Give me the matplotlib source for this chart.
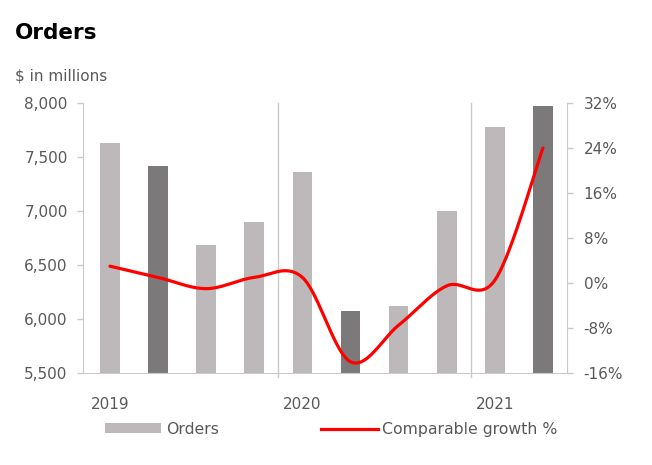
import numpy as np
import matplotlib
matplotlib.use("Agg")
import matplotlib.pyplot as plt
from matplotlib.patches import Patch
from matplotlib.lines import Line2D

quarters = ["Q1 2019", "Q2 2019", "Q3 2019", "Q4 2019",
            "Q1 2020", "Q2 2020", "Q3 2020", "Q4 2020",
            "Q1 2021", "Q2 2021"]
orders = [7628, 7413, 6690, 6900, 7362, 6073, 6119, 6997, 7775, 7969]
growth = [3.0, 1.0, -1.0, 1.0, 1.0, -14.0, -7.5, -0.5, 0.5, 24.0]
year_labels = ["2019", "2020", "2021"]
year_positions = [0, 4, 8]
highlight = [False, True, False, False, False, True, False, False, False, True]

LIGHT = "#bdb9ba"
DARK = "#7b7979"
GRID = "#c8cbc8"
TXT = "#595959"

plt.rcParams['font.family'] = ['DejaVu Sans']

fig = plt.figure(figsize=(6.52, 4.65), dpi=100)
ax = fig.add_axes([0.1273, 0.1978, 0.7423, 0.5806])

x = np.arange(len(orders))
colors = [DARK if h else LIGHT for h in highlight]
ax.bar(x, orders, width=0.41, color=colors, zorder=2)
ax.set_ylim(5500, 8000)
ax.set_xlim(-0.56, 9.5)
ax.set_yticks([5500, 6000, 6500, 7000, 7500, 8000])
ax.set_yticklabels([f"{v:,}" for v in [5500, 6000, 6500, 7000, 7500, 8000]])

for sep in [3.5, 7.5]:
    ax.axvline(sep, ymin=-0.015, ymax=1.0, color=GRID, lw=1, clip_on=False, zorder=1)

ax.set_xticks(year_positions)
ax.set_xticklabels(year_labels)
ax.tick_params(axis='x', length=0, pad=17, labelsize=11, labelcolor=TXT)
ax.tick_params(axis='y', length=4, width=1, color=GRID, pad=7, labelsize=11, labelcolor=TXT)
for s in ['top', 'right']:
    ax.spines[s].set_visible(False)
for s in ['left', 'bottom']:
    ax.spines[s].set_color(GRID)

ax2 = ax.twinx()
ax2.set_ylim(-16, 32)
ax2.set_yticks([-16, -8, 0, 8, 16, 24, 32])
ax2.set_yticklabels([f"{v}%" for v in [-16, -8, 0, 8, 16, 24, 32]])
ax2.tick_params(axis='y', length=4, width=1, color=GRID, pad=8, labelsize=11, labelcolor=TXT)
for s in ['top', 'left', 'bottom']:
    ax2.spines[s].set_visible(False)
ax2.spines['right'].set_color(GRID)

# Smoothed line (Catmull-Rom / Bezier like Excel smoothing)
P = np.column_stack([x, growth]).astype(float)
n = len(P)
xs, ys = [], []
for i in range(n - 1):
    p0 = P[i - 1] if i > 0 else P[i]
    p1 = P[i]
    p2 = P[i + 1]
    p3 = P[i + 2] if i + 2 < n else P[i + 1]
    c1 = p1 + (p2 - p0) / 6.0
    c2 = p2 - (p3 - p1) / 6.0
    t = np.linspace(0, 1, 40)[:, None]
    B = (1 - t) ** 3 * p1 + 3 * (1 - t) ** 2 * t * c1 + 3 * (1 - t) * t ** 2 * c2 + t ** 3 * p2
    xs.extend(B[:, 0]); ys.extend(B[:, 1])
ax2.plot(xs, ys, color="#ff0000", lw=2.3, solid_capstyle='round', zorder=3)

fig.text(0.023, 0.930, "Orders", fontsize=15.5, fontweight='bold', color='black', va='center')
fig.text(0.023, 0.836, "$ in millions", fontsize=11, color=TXT, va='center')

handles = [Patch(facecolor=LIGHT, edgecolor='none'),
           Line2D([0], [0], color="#ff0000", lw=2.3)]
leg = fig.legend(handles, ["Orders", "Comparable growth %"], ncol=2,
                 loc='center left', bbox_to_anchor=(0.161, 0.077), frameon=False,
                 fontsize=11.3, handlelength=3.6, handleheight=0.55, handletextpad=0.3,
                 columnspacing=6.5, borderaxespad=0, borderpad=0)
for t in leg.get_texts():
    t.set_color(TXT)

fig.savefig("out.png", dpi=100)
